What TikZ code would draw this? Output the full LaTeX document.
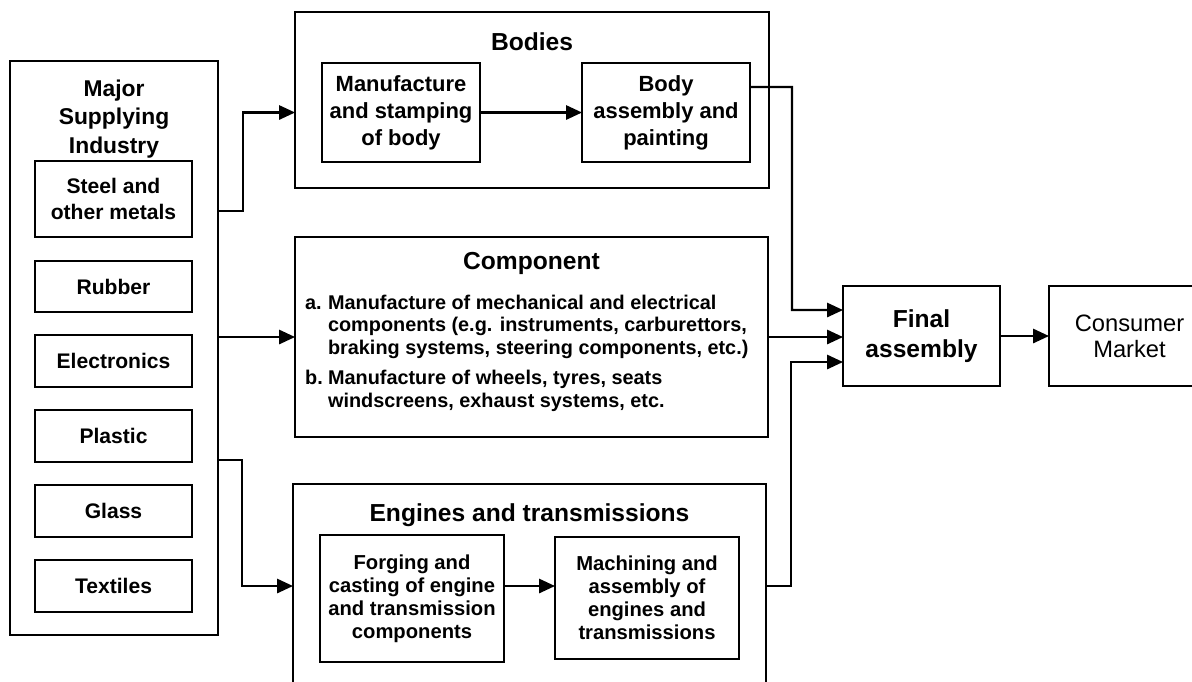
\documentclass[tikz,border=0pt]{standalone}
\usepackage{fontspec}
\setmainfont{Liberation Sans}
\usetikzlibrary{arrows.meta}

\newcommand{\fsz}[2]{\fontsize{#1}{#2}\selectfont}

\begin{document}
\begin{tikzpicture}[x=0.02cm, y=-0.02cm, line width=1.3pt,
  group/.style={draw, inner sep=0pt, outer sep=0pt},
  box/.style={draw, inner sep=0pt, outer sep=0pt, align=center, font=\bfseries\fsz{12}{14.7}},
  item/.style={box, minimum width=3.14cm, minimum height=1.03cm},
  heading/.style={font=\bfseries\fsz{14}{16}},
  flow/.style={-{Triangle[length=9pt,width=8pt]}}]
\useasboundingbox (0,0) rectangle (1192,681);
\clip (0,0) rectangle (1192,681);

\node[group, minimum width=4.16cm, minimum height=11.48cm] (major) at (114,348) {};
\node[font=\bfseries\fsz{13}{16}, align=center] (majortitle) at (114,119) {Major\\Supplying\\Industry};
\node[box, minimum width=3.14cm, minimum height=1.52cm] (steel) at (113.5,199) {Steel and\\other metals};
\node[item] (rubber) at (113.5,286.5) {Rubber};
\node[item] (electronics) at (113.5,361) {Electronics};
\node[item] (plastic) at (113.5,436) {Plastic};
\node[item] (glass) at (113.5,511) {Glass};
\node[item] (textiles) at (113.5,586) {Textiles};

\node[group, minimum width=9.48cm, minimum height=3.52cm] (bodies) at (532,100) {};
\node[heading] (bodiestitle) at (532,42) {Bodies};
\node[box, font=\bfseries\fsz{12.5}{15.3}, minimum width=3.16cm, minimum height=1.98cm] (stamping) at (401,112.5) {Manufacture\\and stamping\\of body};
\node[box, font=\bfseries\fsz{12.5}{15.3}, minimum width=3.36cm, minimum height=1.98cm] (painting) at (666,112.5) {Body\\assembly and\\painting};

\node[group, minimum width=9.46cm, minimum height=4cm] (component) at (531.5,337) {};
\node[heading] (comptitle) at (531.5,263) {Component};
\node[anchor=north west, inner sep=0pt, font=\bfseries\fsz{11.3}{13}] (complist) at (304,292) {%
\begin{tabular}{@{}l@{\hspace{3pt}}l@{}}
a. & Manufacture of mechanical and electrical\\
   & components (e.g. instruments, carburettors,\\
   & braking systems, steering components, etc.)\\[4pt]
b. & Manufacture of wheels, tyres, seats\\
   & windscreens, exhaust systems, etc.
\end{tabular}};

\node[group, minimum width=9.46cm, minimum height=4.6cm] (engines) at (529.5,599) {};
\node[heading] (enginestitle) at (529.5,515) {Engines and transmissions};
\node[box, font=\bfseries\fsz{11.5}{13}, minimum width=3.68cm, minimum height=2.54cm] (forging) at (412,598.5) {Forging and\\casting of engine\\and transmission\\components};
\node[box, font=\bfseries\fsz{11.5}{13}, minimum width=3.68cm, minimum height=2.44cm] (machining) at (647,598) {Machining and\\assembly of\\engines and\\transmissions};

\node[box, font=\bfseries\fsz{14}{17}, minimum width=3.14cm, minimum height=2cm] (final) at (921.5,336) {Final\\assembly};
\node[draw, inner sep=0pt, outer sep=0pt, align=center, font=\fsz{13.5}{14.7}, minimum width=3.22cm, minimum height=2cm] (market) at (1129.5,336) {Consumer\\Market};

\coordinate (steelout) at (218,211);
\coordinate (plasticout) at (218,460);
\coordinate (enginesin) at (293,586);

\draw[flow] (steelout) -- (243,211) |- (bodies.west |- stamping);
\draw[flow] (major.east |- component.west) -- (component.west);
\draw[flow] (plasticout) -- (242,460) |- (enginesin);
\draw[flow] (stamping.east) -- (painting.west);
\draw[flow] (forging.east |- enginesin) -- (machining.west |- enginesin);
\draw[flow] ([yshift=0.51cm]painting.east) -- (792,87) |- ([yshift=0.52cm]final.west);
\draw[flow] (component.east) -- (final.west |- component.east);
\draw[flow] (engines.east |- enginesin) -- (791,586) |- ([yshift=-0.52cm]final.west);
\draw[flow] (final.east) -- (market.west);
\end{tikzpicture}
\end{document}
